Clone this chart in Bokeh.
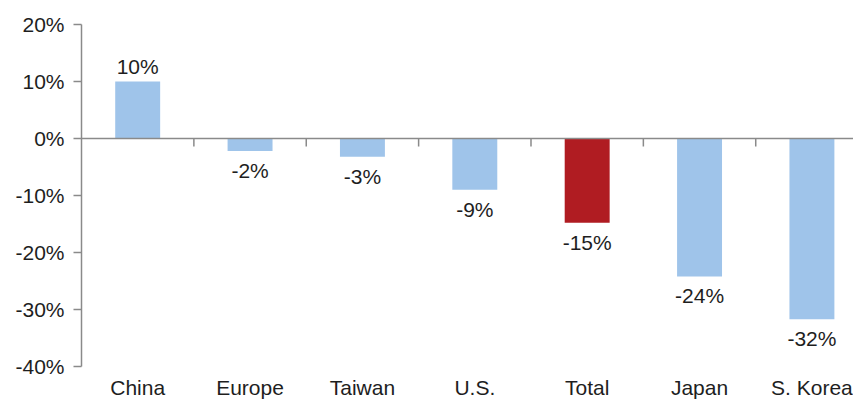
from bokeh.plotting import figure
from bokeh.models import Range1d, FixedTicker, Span, ColumnDataSource
from bokeh.embed import file_html
from bokeh.resources import INLINE
from bokeh.core.properties import value

categories = ["China", "Europe", "Taiwan", "U.S.", "Total", "Japan", "S. Korea"]
values = [10, -2.2, -3.2, -9, -14.8, -24.2, -31.7]
labels = ["10%", "-2%", "-3%", "-9%", "-15%", "-24%", "-32%"]
y_ticks = [-40, -30, -20, -10, 0, 10, 20]

BLUE = "#9fc4ea"
RED = "#b01c22"
GREY = "#8a8a8a"
TEXT = "#1e1e1e"
FONT = "Liberation Sans"
FS = "21px"

idx = list(range(len(categories)))
colors = [RED if c == "Total" else BLUE for c in categories]

p = figure(width=853, height=401, output_backend="svg", toolbar_location=None,
           x_range=Range1d(-0.5, 6.37), y_range=Range1d(-40, 20),
           min_border_left=81, min_border_right=0, min_border_top=24, min_border_bottom=30)
p.outline_line_color = None
p.xgrid.visible = False
p.ygrid.visible = False
p.background_fill_color = "white"

src = ColumnDataSource(dict(x=idx, top=values, color=colors, label=labels))
p.vbar(x="x", top="top", bottom=0, width=0.4, color="color", line_color=None, source=src)

# zero line with category separator ticks
p.add_layout(Span(location=0, dimension="width", line_color=GREY, line_width=1.5))
bounds = [i + 0.5 for i in idx[:-1]]
p.segment(x0=bounds, y0=[0] * len(bounds), x1=bounds, y1=[-1.4] * len(bounds),
          line_color=GREY, line_width=1.5)

# value labels
pos = ColumnDataSource(dict(x=[i for i, v in zip(idx, values) if v >= 0],
                            y=[v for v in values if v >= 0],
                            t=[l for l, v in zip(labels, values) if v >= 0]))
neg = ColumnDataSource(dict(x=[i for i, v in zip(idx, values) if v < 0],
                            y=[v for v in values if v < 0],
                            t=[l for l, v in zip(labels, values) if v < 0]))
p.text(x="x", y="y", text="t", source=pos, text_align="center", text_baseline="bottom",
       y_offset=-4, text_font=value(FONT), text_font_size=FS, text_color=TEXT)
p.text(x="x", y="y", text="t", source=neg, text_align="center", text_baseline="top",
       y_offset=8, text_font=value(FONT), text_font_size=FS, text_color=TEXT)

# y axis
ya = p.yaxis[0]
ya.ticker = FixedTicker(ticks=y_ticks)
ya.major_label_overrides = {t: f"{t}%" for t in y_ticks}
ya.axis_line_color = GREY
ya.axis_line_width = 1.5
ya.major_tick_line_color = GREY
ya.major_tick_line_width = 1.5
ya.major_tick_out = 8
ya.major_tick_in = 0
ya.minor_tick_line_color = None
ya.major_label_standoff = 9
ya.major_label_text_font = FONT
ya.major_label_text_font_size = FS
ya.major_label_text_color = TEXT

# x axis (category names)
xa = p.xaxis[0]
xa.ticker = FixedTicker(ticks=idx)
xa.major_label_overrides = {i: c for i, c in zip(idx, categories)}
xa.axis_line_color = None
xa.major_tick_line_color = None
xa.minor_tick_line_color = None
xa.major_tick_out = 0
xa.major_tick_in = 0
xa.major_label_standoff = 9
xa.major_label_text_font = FONT
xa.major_label_text_font_size = FS
xa.major_label_text_color = TEXT

open("out.html", "w").write(file_html(p, INLINE))
